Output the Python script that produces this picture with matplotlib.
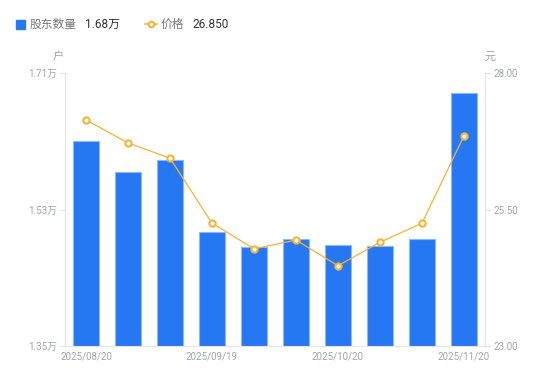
import numpy as np
import matplotlib
matplotlib.use('Agg')
import matplotlib.pyplot as plt
from matplotlib.lines import Line2D

plt.rcParams['font.family'] = ['Roboto', 'Noto Sans CJK SC', 'DejaVu Sans']

dates = ['2025/08/20', '2025/08/31', '2025/09/10', '2025/09/19', '2025/09/30',
         '2025/10/10', '2025/10/20', '2025/10/31', '2025/11/10', '2025/11/20']
holders = [1.620, 1.579, 1.595, 1.500, 1.481, 1.491, 1.483, 1.482, 1.491, 1.684]
price = [27.14, 26.72, 26.44, 25.25, 24.78, 24.94, 24.47, 24.90, 25.25, 26.85]
left_ticks = [1.35, 1.53, 1.71]
right_ticks = [23.0, 25.5, 28.0]
shown_dates = [0, 3, 6, 9]

bar_color = '#2677F2'
line_color = '#F9B233'
tick_color = '#A0A3B1'
axis_color = '#E3E5EA'
cjk = ['Noto Sans CJK SC', 'DejaVu Sans']

fig = plt.figure(figsize=(5.5, 3.81), dpi=100)
ax = fig.add_axes([65/550, 35/381, 420/550, 273/381])
ax2 = ax.twinx()

x = np.arange(len(dates))
ax.bar(x, holders, width=0.6, color=bar_color, edgecolor='#8FB8F9', linewidth=0.8, zorder=2)
ax.set_xlim(-0.5, len(dates) - 0.5)
ax.set_ylim(left_ticks[0], left_ticks[-1])
ax.set_yticks(left_ticks)
ax.set_yticklabels(['{:.2f}万'.format(v) for v in left_ticks])
ax.set_xticks(x[shown_dates])
ax.set_xticklabels([dates[i] for i in shown_dates])

ax2.plot(x, price, color=line_color, linewidth=0.9, marker='o', markersize=4.5,
         markerfacecolor='white', markeredgecolor=line_color, markeredgewidth=1.5, zorder=3)
ax2.set_ylim(right_ticks[0], right_ticks[-1])
ax2.set_yticks(right_ticks)
ax2.set_yticklabels(['{:.2f}'.format(v) for v in right_ticks])

for a in (ax, ax2):
    for s in a.spines.values():
        s.set_visible(False)
    a.tick_params(axis='both', colors=axis_color, labelcolor=tick_color, labelsize=7, length=4, width=0.8, pad=2)
ax.spines['left'].set_visible(True)
ax.spines['left'].set_color(axis_color)
ax.spines['bottom'].set_visible(True)
ax.spines['bottom'].set_color(axis_color)
ax2.spines['right'].set_visible(True)
ax2.spines['right'].set_color(axis_color)
ax.tick_params(axis='x', length=0, pad=4)

# unit labels
fig.text(58/550, 1 - 57/381, '户', color=tick_color, fontsize=8, ha='center', va='center', family=cjk)
fig.text(490/550, 1 - 57/381, '元', color=tick_color, fontsize=8, ha='center', va='center', family=cjk)

# legend row
ly = 1 - 24/381
fig.patches.append(plt.Rectangle((16/550, ly - 4.5/381), 9/550, 9/381, transform=fig.transFigure,
                                 color=bar_color, figure=fig))
fig.text(30/550, ly, '股东数量', color='#777777', fontsize=8.5, va='center', family=cjk)
fig.text(85/550, ly, '1.68万', color='#333333', fontsize=8.5, va='center')
fig.lines.append(Line2D([145/550, 157/550], [ly, ly], transform=fig.transFigure, color=line_color,
                        linewidth=1.2, figure=fig))
fig.lines.append(Line2D([151/550], [ly], transform=fig.transFigure, color=line_color, marker='o',
                        markersize=4, markerfacecolor='white', markeredgewidth=1.5, figure=fig))
fig.text(161/550, ly, '价格', color='#777777', fontsize=8.5, va='center', family=cjk)
fig.text(192/550, ly, '26.850', color='#333333', fontsize=8.5, va='center')

fig.savefig('out.png', dpi=100)
